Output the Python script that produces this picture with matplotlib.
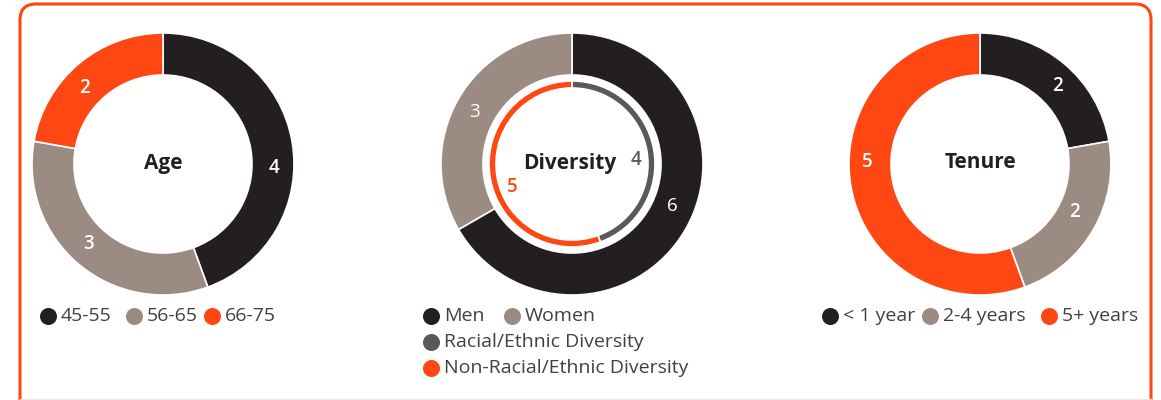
import math
import matplotlib.pyplot as plt
from matplotlib.patches import FancyBboxPatch

plt.rcParams['font.family'] = ['Open Sans', 'DejaVu Sans']

BLACK = '#231f20'
TAUPE = '#9b8b83'
ORANGE = '#ff4713'
GRAY = '#58595b'

# data
age_labels = ['45-55', '56-65', '66-75']
age_values = [4, 3, 2]

gender_labels = ['Men', 'Women']
gender_values = [6, 3]

diversity_labels = ['Racial/Ethnic Diversity', 'Non-Racial/Ethnic Diversity']
diversity_values = [4, 5]

tenure_labels = ['< 1 year', '2-4 years', '5+ years']
tenure_values = [2, 2, 5]

H = 400
fig = plt.figure(figsize=(11.61, 4), dpi=100)
ax = fig.add_axes([0, 0, 1, 1])


def Y(py):
    return H - py


def donut(cx, cy, values, colors, r_out, width, label_r, offsets,
          label_colors=None, weight='bold'):
    ax.pie(values, colors=colors, center=(cx, Y(cy)), radius=r_out,
           startangle=90, counterclock=False, frame=True,
           wedgeprops=dict(width=width, edgecolor='white', linewidth=1.2))
    total = sum(values)
    start = 0
    for i, v in enumerate(values):
        mid = (start + v / 2) / total * 2 * math.pi
        start += v
        x = cx + label_r * math.sin(mid) + offsets[i][0]
        y = Y(cy) + label_r * math.cos(mid) - offsets[i][1]
        col = label_colors[i] if label_colors else 'white'
        ax.text(x, y, str(v), color=col, fontsize=13.5, fontweight=weight,
                ha='center', va='center')


# Age
donut(163, 164, age_values, [BLACK, TAUPE, ORANGE], 131, 42, 110,
      [(3, 23), (-4, -4), (-8, 8)], weight='semibold')
ax.text(163, Y(164), 'Age', fontsize=15, fontweight='bold', color=BLACK,
        ha='center', va='center')

# Diversity
donut(572, 164, gender_values, [BLACK, TAUPE], 131, 42, 110,
      [(5, -13), (-2, 3)], weight='normal')
donut(572, 164, diversity_values, [GRAY, ORANGE], 83, 7, 64,
      [(1, 7), (3, 12)], label_colors=[GRAY, ORANGE], weight='semibold')
ax.text(570, Y(164), 'Diversity', fontsize=15, fontweight='bold', color=BLACK,
        ha='center', va='center')

# Tenure
donut(980, 164, tenure_values, [BLACK, TAUPE, ORANGE], 131, 42, 110,
      [(7, 6), (-1, -7), (-4, -21)], weight='semibold')
ax.text(980, Y(162), 'Tenure', fontsize=15, fontweight='bold', color=BLACK,
        ha='center', va='center')


def legend_item(x, y, color, text):
    ax.scatter([x], [Y(y)], s=150, color=color, linewidths=0)
    ax.text(x + 13, Y(y), text, fontsize=14, color='#404040',
            ha='left', va='center')


for x, c, t in zip([48, 134, 212], [BLACK, TAUPE, ORANGE], age_labels):
    legend_item(x, 316, c, t)
for x, c, t in zip([431, 512], [BLACK, TAUPE], gender_labels):
    legend_item(x, 316, c, t)
legend_item(431, 342, GRAY, diversity_labels[0])
legend_item(431, 368, ORANGE, diversity_labels[1])
for x, c, t in zip([830, 930, 1049], [BLACK, TAUPE, ORANGE], tenure_labels):
    legend_item(x, 316, c, t)

# rounded frame
box = FancyBboxPatch((20, Y(440)), 1131, 436,
                     boxstyle='round,pad=0,rounding_size=16',
                     facecolor='none', edgecolor=ORANGE, linewidth=2.2,
                     clip_on=False)
ax.add_patch(box)
ax.axhline(Y(398.5), xmin=20 / 1161, xmax=1151 / 1161, color='#fbe3dc', lw=1)

ax.set_xlim(0, 1161)
ax.set_ylim(0, H)
ax.set_aspect('auto')
ax.axis('off')

fig.savefig('out.png', dpi=100)
